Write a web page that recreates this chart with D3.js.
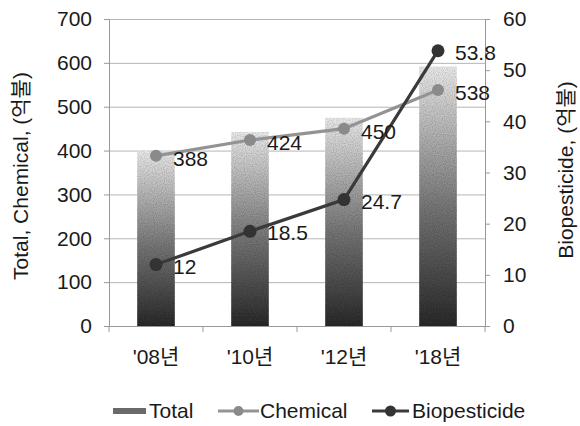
<!DOCTYPE html>
<html>
<head>
<meta charset="utf-8">
<script src="https://cdn.jsdelivr.net/npm/d3@7"></script>
<style>
  html, body { margin: 0; padding: 0; background: #fff; }
  svg { display: block; }
  text { font-family: "Liberation Sans", Arial, "Noto Sans CJK KR", sans-serif; fill: #1a1a1a; }
</style>
</head>
<body>
<svg id="chart" width="580" height="426"></svg>
<script>
// Market size by year (억불)
const years = ["'08년", "'10년", "'12년", "'18년"];
const totalValues = [400, 442.5, 474.7, 591.8];
const chemicalValues = [388, 424, 450, 538];
const bioValues = [12, 18.5, 24.7, 53.8];
const leftTicks = [0, 100, 200, 300, 400, 500, 600, 700];
const rightTicks = [0, 10, 20, 30, 40, 50, 60];

const FS = "21px";
const svg = d3.select("#chart");
const m = { left: 109, right: 485, top: 19, bottom: 326 };

const x = d3.scaleBand().domain(years).range([m.left, m.right]).paddingInner(0.6).paddingOuter(0.3);
const xc = d => x(d) + x.bandwidth() / 2;
const yL = d3.scaleLinear().domain([0, 700]).range([m.bottom, m.top]);
const yR = d3.scaleLinear().domain([0, 60]).range([m.bottom, m.top]);

// bar fill: dark base fading to pale top, with a fine grain
const defs = svg.append("defs");
const grad = defs.append("linearGradient").attr("id", "barGrad")
  .attr("x1", 0).attr("y1", 1).attr("x2", 0).attr("y2", 0);
grad.append("stop").attr("offset", "0%").attr("stop-color", "#2b2b2b");
grad.append("stop").attr("offset", "45%").attr("stop-color", "#767676");
grad.append("stop").attr("offset", "100%").attr("stop-color", "#ececec");

const grain = defs.append("filter").attr("id", "grain")
  .attr("x", 0).attr("y", 0).attr("width", 1).attr("height", 1);
grain.append("feTurbulence").attr("type", "fractalNoise").attr("baseFrequency", 0.9)
  .attr("numOctaves", 1).attr("seed", 3).attr("result", "noise");
grain.append("feColorMatrix").attr("in", "noise").attr("type", "matrix")
  .attr("values", "0 0 0 0 0  0 0 0 0 0  0 0 0 0 0  0 0 0 0.8 -0.28").attr("result", "dots");
grain.append("feComposite").attr("in", "dots").attr("in2", "SourceGraphic").attr("operator", "in").attr("result", "dotsIn");
grain.append("feMerge").call(g => {
  g.append("feMergeNode").attr("in", "SourceGraphic");
  g.append("feMergeNode").attr("in", "dotsIn");
});

// gridlines
svg.append("g").selectAll("line").data(leftTicks.slice(1)).join("line")
  .attr("x1", m.left).attr("x2", m.right)
  .attr("y1", d => yL(d) + 0.5).attr("y2", d => yL(d) + 0.5)
  .attr("stroke", "#b5b5b5").attr("stroke-width", 1);

// bars
svg.append("g").selectAll("rect").data(years).join("rect")
  .attr("x", d => x(d)).attr("width", x.bandwidth())
  .attr("y", (d, i) => yL(totalValues[i]))
  .attr("height", (d, i) => yL(0) - yL(totalValues[i]))
  .attr("fill", "url(#barGrad)").attr("filter", "url(#grain)");

// axes
const axL = svg.append("g").attr("transform", `translate(${m.left},0)`)
  .call(d3.axisLeft(yL).tickValues(leftTicks).tickSize(5).tickPadding(12));
const axR = svg.append("g").attr("transform", `translate(${m.right},0)`)
  .call(d3.axisRight(yR).tickValues(rightTicks).tickSize(5).tickPadding(13));
const axB = svg.append("g").attr("transform", `translate(0,${m.bottom})`)
  .call(d3.axisBottom(x).tickSize(0).tickPadding(23));
[axL, axR, axB].forEach(a => {
  a.select(".domain").attr("stroke", "#999");
  a.selectAll(".tick line").attr("stroke", "#999");
  a.selectAll("text").style("font-size", FS).attr("fill", "#1a1a1a");
});
axB.select(".domain").attr("d", `M${m.left - 5},0.5H${m.right + 5}`);
// category separators below the base line
const seps = d3.range(years.length + 1).map(i => m.left + i * x.step());
axB.selectAll(".sep").data(seps).join("line").attr("class", "sep")
  .attr("x1", d => d).attr("x2", d => d).attr("y1", 0).attr("y2", 6).attr("stroke", "#999");

// lines
const lineL = d3.line().x((d, i) => xc(years[i])).y(d => yL(d));
const lineR = d3.line().x((d, i) => xc(years[i])).y(d => yR(d));

svg.append("path").datum(chemicalValues).attr("d", lineL)
  .attr("fill", "none").attr("stroke", "#939393").attr("stroke-width", 3.2);
svg.append("g").selectAll("circle").data(chemicalValues).join("circle")
  .attr("cx", (d, i) => xc(years[i])).attr("cy", d => yL(d)).attr("r", 6)
  .attr("fill", "#8a8a8a");

svg.append("path").datum(bioValues).attr("d", lineR)
  .attr("fill", "none").attr("stroke", "#3a3a3a").attr("stroke-width", 3.2);
svg.append("g").selectAll("circle").data(bioValues).join("circle")
  .attr("cx", (d, i) => xc(years[i])).attr("cy", d => yR(d)).attr("r", 6.5)
  .attr("fill", "#333");

// value labels
svg.append("g").selectAll("text").data(chemicalValues).join("text")
  .attr("x", (d, i) => xc(years[i]) + 17).attr("y", d => yL(d) + 10)
  .style("font-size", FS).text(d => d);
svg.append("g").selectAll("text").data(bioValues).join("text")
  .attr("x", (d, i) => xc(years[i]) + 17).attr("y", d => yR(d) + 9)
  .style("font-size", FS).text(d => d);

// axis titles
svg.append("text").attr("transform", `translate(28,176) rotate(-90)`)
  .attr("text-anchor", "middle").style("font-size", FS).text("Total,  Chemical, (억불)");
svg.append("text").attr("transform", `translate(573,170) rotate(-90)`)
  .attr("text-anchor", "middle").style("font-size", FS).text("Biopesticide, (억불)");

// legend
const lg = svg.append("g").attr("transform", "translate(0,411)");
lg.append("rect").attr("x", 113).attr("y", -3).attr("width", 33).attr("height", 6)
  .attr("fill", "#6a6a6a");
lg.append("text").attr("x", 149).attr("y", 7).style("font-size", FS).text("Total");
lg.append("line").attr("x1", 218).attr("x2", 259).attr("y1", 0).attr("y2", 0)
  .attr("stroke", "#939393").attr("stroke-width", 3.2);
lg.append("circle").attr("cx", 238.5).attr("cy", 0).attr("r", 5).attr("fill", "#8a8a8a");
lg.append("text").attr("x", 260).attr("y", 7).style("font-size", FS).text("Chemical");
lg.append("line").attr("x1", 372).attr("x2", 409).attr("y1", 0).attr("y2", 0)
  .attr("stroke", "#3a3a3a").attr("stroke-width", 3.2);
lg.append("circle").attr("cx", 390.5).attr("cy", 0).attr("r", 5.5).attr("fill", "#333");
lg.append("text").attr("x", 412).attr("y", 7).style("font-size", FS).text("Biopesticide");
</script>
</body>
</html>
